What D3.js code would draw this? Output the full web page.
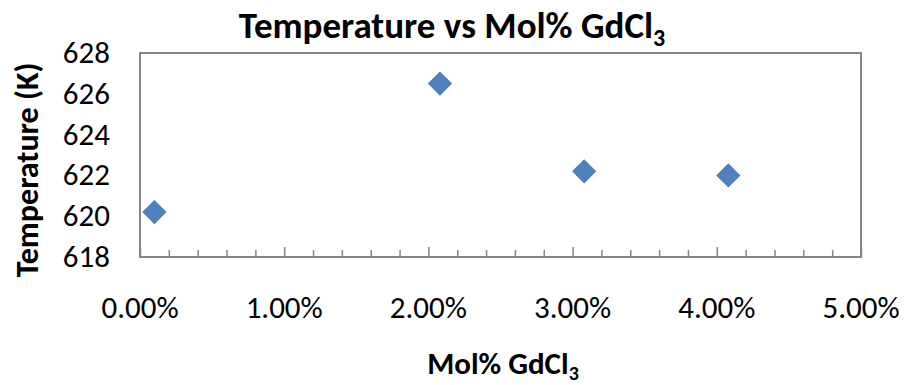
<!DOCTYPE html>
<html lang="en">
<head>
    <meta charset="UTF-8">
    <title>Temperature vs Mol% GdCl3</title>
    <script src="https://cdn.jsdelivr.net/npm/d3@7/dist/d3.min.js"></script>
    <style>
        body { margin: 0; background: #fff; }
        text { font-family: Carlito, Lato, "Open Sans", sans-serif; }
    </style>
</head>
<body>
<script>
    // data
    const molPct = [0.001, 0.0208, 0.0308, 0.0408];
    const tempK = [620.2, 626.5, 622.2, 622.0];
    const yTicks = [618, 620, 622, 624, 626, 628];
    const xTicks = [0, 0.01, 0.02, 0.03, 0.04, 0.05];

    const w = 904, h = 385;
    const m = {top: 53, right: 43, bottom: 128, left: 140};

    let svg = d3.select('body').append('svg')
        .attr('width', w).attr('height', h);

    let xScale = d3.scaleLinear().domain([0, 0.05]).range([m.left, w - m.right]);
    let yScale = d3.scaleLinear().domain([618, 628]).range([h - m.bottom, m.top]);

    // plot frame
    svg.append('rect')
        .attr('x', m.left).attr('y', m.top)
        .attr('width', w - m.left - m.right).attr('height', h - m.top - m.bottom)
        .attr('fill', 'none').attr('stroke', '#868686').attr('stroke-width', 2);

    // x axis with minor ticks pointing up
    let minor = d3.range(0, 0.0501, 0.002);
    svg.append('g')
        .attr('transform', `translate(0,${h - m.bottom})`)
        .call(d3.axisTop(xScale).tickValues(minor).tickSize(7).tickFormat(''))
        .call(g => g.select('.domain').remove())
        .call(g => g.selectAll('line').attr('stroke', '#868686').attr('stroke-width', 1.5)
            .attr('y2', (d) => Math.abs(d * 100 - Math.round(d * 100)) < 1e-6 ? -10 : -7));

    svg.append('g').selectAll('text')
        .data(xTicks).enter().append('text')
        .attr('x', d => xScale(d))
        .attr('y', 318)
        .attr('text-anchor', 'middle')
        .attr('font-size', '31px')
        .attr('fill', '#000')
        .text(d => d3.format('.2%')(d));

    svg.append('g').selectAll('text')
        .data(yTicks).enter().append('text')
        .attr('x', 110)
        .attr('y', d => yScale(d) + 10)
        .attr('text-anchor', 'end')
        .attr('font-size', '31px')
        .attr('fill', '#000')
        .text(d => d);

    // points
    svg.append('g').selectAll('path')
        .data(molPct).enter().append('path')
        .attr('d', d3.symbol().type(d3.symbolSquare).size(260))
        .attr('transform', (d, i) => `translate(${xScale(d)},${yScale(tempK[i])}) rotate(45)`)
        .attr('fill', '#4F81BD')
        .attr('stroke', '#4A7EBB')
        .attr('stroke-width', 1);

    // titles
    let title = svg.append('text')
        .attr('x', 452).attr('y', 38)
        .attr('text-anchor', 'middle')
        .attr('font-size', '37px')
        .attr('font-weight', 'bold');
    title.append('tspan').text('Temperature vs Mol% GdCl');
    title.append('tspan').attr('font-size', '24px').attr('dy', 8).text('3');

    let xt = svg.append('text')
        .attr('x', 503).attr('y', 374)
        .attr('text-anchor', 'middle')
        .attr('font-size', '31px')
        .attr('font-weight', 'bold');
    xt.append('tspan').text('Mol% GdCl');
    xt.append('tspan').attr('font-size', '20px').attr('dy', 6).text('3');

    svg.append('text')
        .attr('transform', 'translate(38,170) rotate(-90)')
        .attr('text-anchor', 'middle')
        .attr('font-size', '32px')
        .attr('font-weight', 'bold')
        .text('Temperature (K)');
</script>
</body>
</html>
